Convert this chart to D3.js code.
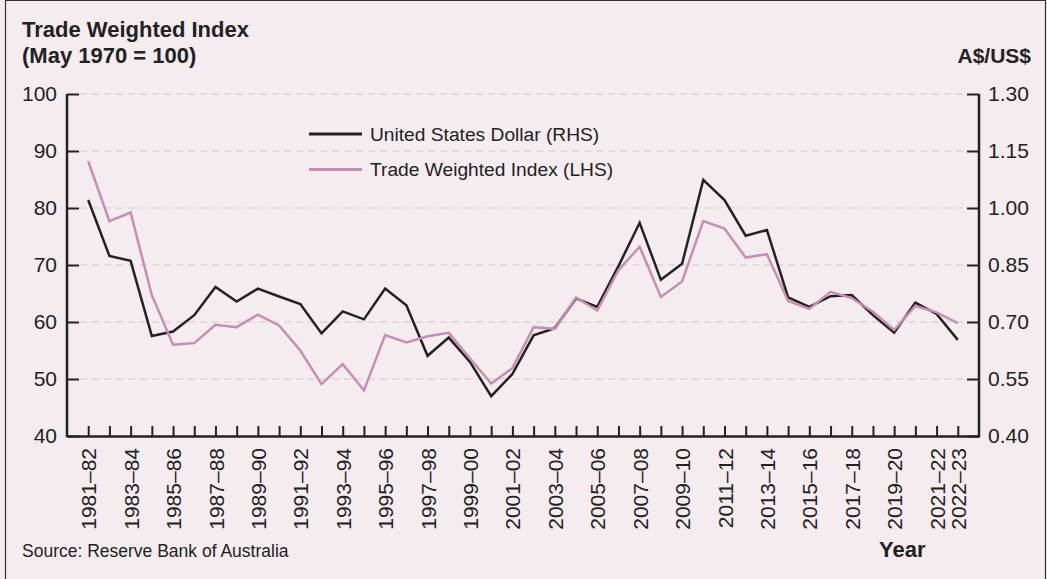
<!DOCTYPE html>
<html>
<head>
<meta charset="utf-8">
<script src="https://cdn.jsdelivr.net/npm/d3@7"></script>
<style>
    html, body { margin: 0; padding: 0; background: #f5ecf0; }
    svg text { font-family: "Liberation Sans", Arial, Helvetica, sans-serif; fill: #222; }
</style>
</head>
<body>
<div id="chart"></div>
<script>

var years = ["1981–82", "1982–83", "1983–84", "1984–85", "1985–86", "1986–87", "1987–88",
    "1988–89", "1989–90", "1990–91", "1991–92", "1992–93", "1993–94", "1994–95", "1995–96",
    "1996–97", "1997–98", "1998–99", "1999–00", "2000–01", "2001–02", "2002–03", "2003–04",
    "2004–05", "2005–06", "2006–07", "2007–08", "2008–09", "2009–10", "2010–11", "2011–12",
    "2012–13", "2013–14", "2014–15", "2015–16", "2016–17", "2017–18", "2018–19", "2019–20",
    "2020–21", "2021–22", "2022–23"];

// labels shown under the axis
var yearLabels = ["1981–82", "1983–84", "1985–86", "1987–88", "1989–90", "1991–92", "1993–94",
    "1995–96", "1997–98", "1999–00", "2001–02", "2003–04", "2005–06", "2007–08", "2009–10",
    "2011–12", "2013–14", "2015–16", "2017–18", "2019–20", "2021–22", "2022–23"];

// Trade Weighted Index (LHS)
var twi = [88.2, 77.7, 79.2, 64.7, 56.0, 56.3, 59.5, 59.1, 61.3, 59.4, 55.0, 49.1, 52.6, 48.0,
    57.7, 56.4, 57.5, 58.1, 53.6, 49.2, 51.9, 59.1, 58.8, 64.3, 62.0, 69.1, 73.2, 64.4, 67.1,
    77.7, 76.4, 71.3, 71.9, 63.7, 62.3, 65.3, 64.2, 61.8, 58.6, 62.8, 61.7, 59.8];

// United States Dollar (RHS)
var usd = [1.021, 0.874, 0.861, 0.663, 0.675, 0.718, 0.792, 0.754, 0.788, 0.767, 0.747, 0.670,
    0.728, 0.707, 0.788, 0.744, 0.611, 0.659, 0.595, 0.505, 0.563, 0.665, 0.684, 0.762, 0.740,
    0.847, 0.961, 0.811, 0.853, 1.074, 1.021, 0.927, 0.942, 0.765, 0.740, 0.768, 0.771, 0.718,
    0.672, 0.751, 0.721, 0.653];

var leftTicks = [40, 50, 60, 70, 80, 90, 100];
var rightTicks = [0.40, 0.55, 0.70, 0.85, 1.00, 1.15, 1.30];

var series = [
    { name: "United States Dollar (RHS)", values: usd, axis: "right", color: "#222222" },
    { name: "Trade Weighted Index (LHS)", values: twi, axis: "left", color: "#c78db2" }
];


TradeChart = function(container){

    this.container = container;
    this.full_width = 1047;
    this.full_height = 579;
    this.margin = { left: 67, right: 68, top: 94, bottom: 143 };
    this.ink = "#222222";

    this._draw_all();
};

TradeChart.prototype._draw_all = function(){

    this._build_graph();
    this._draw_grid();
    this._draw_axes();
    this._draw_lines();
    this._draw_legend();
    this._draw_titles();

};

TradeChart.prototype._build_graph = function(){

    this.width = this.full_width - this.margin.left - this.margin.right;
    this.height = this.full_height - this.margin.top - this.margin.bottom;

    this._svg = d3.select(this.container)
        .append("svg")
        .attr("width", this.full_width)
        .attr("height", this.full_height);

    this._svg.append("rect")
        .attr("width", this.full_width)
        .attr("height", this.full_height)
        .style("fill", "#f5ecf0");

    // thin frame round the figure
    this._svg.append("path")
        .attr("d", "M5.5," + this.full_height + "V0.5H1045.5V" + this.full_height)
        .style("fill", "none")
        .style("stroke", "#333")
        .style("stroke-width", 1.2);

    this._chart = this._svg.append("g")
        .attr("transform", "translate(" + this.margin.left + "," + this.margin.top + ")");

    this.x = d3.scalePoint()
        .domain(years)
        .range([0, this.width])
        .padding(1);

    this.yLeft = d3.scaleLinear()
        .domain([40, 100])
        .range([this.height, 0]);

    this.yRight = d3.scaleLinear()
        .domain([0.40, 1.30])
        .range([this.height, 0]);

};

TradeChart.prototype._draw_grid = function(){

    var self = this;

    this._chart.append("g")
        .selectAll("line")
        .data(leftTicks.slice(1))
        .join("line")
        .attr("x1", 13)
        .attr("x2", this.width - 13)
        .attr("y1", function(d){ return self.yLeft(d); })
        .attr("y2", function(d){ return self.yLeft(d); })
        .style("stroke", "#cfc9cc")
        .style("stroke-width", 1.2)
        .style("stroke-dasharray", "7,5");

};

TradeChart.prototype._draw_axes = function(){

    var self = this;

    var leftAxis = d3.axisLeft(this.yLeft)
        .tickValues(leftTicks)
        .tickSizeInner(-12)
        .tickSizeOuter(0)
        .tickPadding(10)
        .tickFormat(d3.format("d"));

    var rightAxis = d3.axisRight(this.yRight)
        .tickValues(rightTicks)
        .tickSizeInner(-12)
        .tickSizeOuter(0)
        .tickPadding(9)
        .tickFormat(d3.format(".2f"));

    var bottomAxis = d3.axisBottom(this.x)
        .tickSizeInner(-10)
        .tickSizeOuter(0)
        .tickFormat(function(d){ return yearLabels.indexOf(d) >= 0 ? d : ""; });

    var gl = this._chart.append("g").call(leftAxis);
    var gr = this._chart.append("g")
        .attr("transform", "translate(" + this.width + ",0)")
        .call(rightAxis);
    var gb = this._chart.append("g")
        .attr("transform", "translate(0," + this.height + ")")
        .call(bottomAxis);

    [gl, gr, gb].forEach(function(g){
        g.attr("font-family", null);
        g.select(".domain").style("stroke", self.ink).style("stroke-width", 2.5);
        g.selectAll(".tick line").style("stroke", self.ink).style("stroke-width", 2);
        g.selectAll(".tick text")
            .style("font-size", "21px")
            .style("fill", self.ink);
    });

    gl.select(".domain").attr("d", "M0,0V" + this.height + "H1");
    gr.select(".domain").attr("d", "M0,0V" + this.height + "H-1");

    gb.selectAll(".tick text")
        .attr("transform", "rotate(-90)")
        .attr("text-anchor", "end")
        .attr("x", -12)
        .attr("y", 0)
        .attr("dy", "0.36em");

};

TradeChart.prototype._draw_lines = function(){

    var self = this;

    series.forEach(function(s){

        var yScale = s.axis == "left" ? self.yLeft : self.yRight;

        var line = d3.line()
            .x(function(d, i){ return self.x(years[i]); })
            .y(function(d){ return yScale(d); });

        self._chart.append("path")
            .datum(s.values)
            .attr("d", line)
            .style("fill", "none")
            .style("stroke", s.color)
            .style("stroke-width", 2.5)
            .style("stroke-linejoin", "miter");
    });

};

TradeChart.prototype._draw_legend = function(){

    var legend = this._svg.append("g")
        .attr("transform", "translate(309,134)");

    var items = legend.selectAll("g")
        .data(series)
        .join("g")
        .attr("transform", function(d, i){ return "translate(0," + (i * 35.5) + ")"; });

    items.append("line")
        .attr("x1", 0)
        .attr("x2", 53)
        .style("stroke", function(d){ return d.color; })
        .style("stroke-width", 3);

    items.append("text")
        .attr("x", 61)
        .attr("dy", "0.36em")
        .style("font-size", "19.2px")
        .text(function(d){ return d.name; });

};

TradeChart.prototype._draw_titles = function(){

    var svg = this._svg;

    svg.append("text")
        .attr("x", 22)
        .attr("y", 37)
        .style("font-size", "22px")
        .style("font-weight", "bold")
        .text("Trade Weighted Index");

    svg.append("text")
        .attr("x", 22)
        .attr("y", 63)
        .style("font-size", "22px")
        .style("font-weight", "bold")
        .text("(May 1970 = 100)");

    svg.append("text")
        .attr("x", 1031)
        .attr("y", 63)
        .attr("text-anchor", "end")
        .style("font-size", "21px")
        .style("font-weight", "bold")
        .text("A$/US$");

    svg.append("text")
        .attr("x", 22)
        .attr("y", 557)
        .style("font-size", "17.5px")
        .text("Source: Reserve Bank of Australia");

    svg.append("text")
        .attr("x", 879)
        .attr("y", 557)
        .style("font-size", "22px")
        .style("font-weight", "bold")
        .text("Year");

};

new TradeChart("#chart");

</script>
</body>
</html>
